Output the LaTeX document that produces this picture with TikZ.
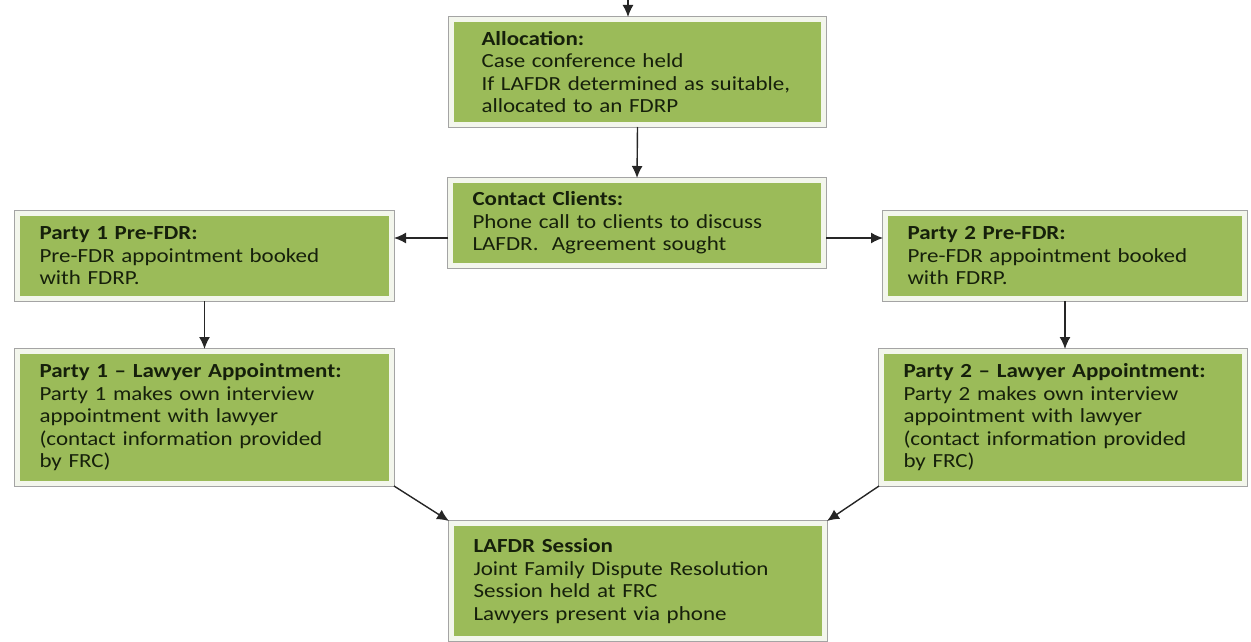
\documentclass[tikz,border=0pt]{standalone}
\usepackage{fontspec}
\setmainfont{Carlito}[FakeStretch=1.15]
\usepackage{xcolor}
\usetikzlibrary{arrows.meta}
\definecolor{boxgreen}{HTML}{9BBB59}
\definecolor{boxrim}{HTML}{F3F6EC}
\definecolor{boxedge}{HTML}{A4A4A4}
\definecolor{boxtext}{HTML}{16200B}

\begin{document}
\begin{tikzpicture}[x=1pt,y=-1pt,
	box/.style={rectangle, fill=boxgreen, draw=boxrim, line width=5pt,
		preaction={draw=boxedge, line width=7pt},
		text=boxtext, align=left, inner xsep=22pt, inner ysep=0pt,
		font=\fontsize{20}{22.5}\selectfont},
	flow/.style={draw=black!85, line width=1.4pt, -{Latex[length=12pt,width=11pt]}}]
\useasboundingbox (0,0) rectangle (1251,642);
% boxes
\node[box, inner xsep=30pt, text width=312pt, minimum height=105pt] (alloc) at (637.5,72)
	{\textbf{Allocation:}\\Case conference held\\If LAFDR determined as suitable,\\allocated to an FDRP};
\node[box, text width=329pt, minimum height=85pt] (contact) at (637,223)
	{\textbf{Contact Clients:}\\Phone call to clients to discuss\\LAFDR.\ \ Agreement sought};
\node[box, text width=330pt, minimum height=85pt] (preone) at (204.5,256)
	{\textbf{Party 1 Pre-FDR:}\\Pre-FDR appointment booked\\with FDRP.};
\node[box, text width=315pt, minimum height=85pt] (pretwo) at (1065,256)
	{\textbf{Party 2 Pre-FDR:}\\Pre-FDR appointment booked\\with FDRP.};
\node[box, text width=330pt, minimum height=132pt] (lawone) at (204.5,417.5)
	{\textbf{Party 1 -- Lawyer Appointment:}\\Party 1 makes own interview\\appointment with lawyer\\(contact information provided\\by FRC)};
\node[box, text width=319pt, minimum height=132pt] (lawtwo) at (1063,417.5)
	{\textbf{Party 2 -- Lawyer Appointment:}\\Party 2 makes own interview\\appointment with lawyer\\(contact information provided\\by FRC)};
\node[box, text width=329pt, minimum height=115pt] (session) at (638,581)
	{\textbf{LAFDR Session}\\Joint Family Dispute Resolution\\Session held at FRC\\Lawyers present via phone};
% connectors
\coordinate (entry) at (628,0);
\draw[flow] (entry) -- (entry |- alloc.north);
\draw[flow] (alloc.south) -- (contact.north);
\draw[flow] ([yshift=-15pt]contact.west) -- ([yshift=-15pt]contact.west -| preone.east);
\draw[flow] ([yshift=-15pt]contact.east) -- ([yshift=-15pt]contact.east -| pretwo.west);
\draw[flow] (preone.south) -- (lawone.north);
\draw[flow] (pretwo.south) -- (pretwo.south |- lawtwo.north);
\draw[flow] (lawone.south east) -- (session.north west);
\draw[flow] (lawtwo.south west) -- (session.north east);
\end{tikzpicture}
\end{document}
